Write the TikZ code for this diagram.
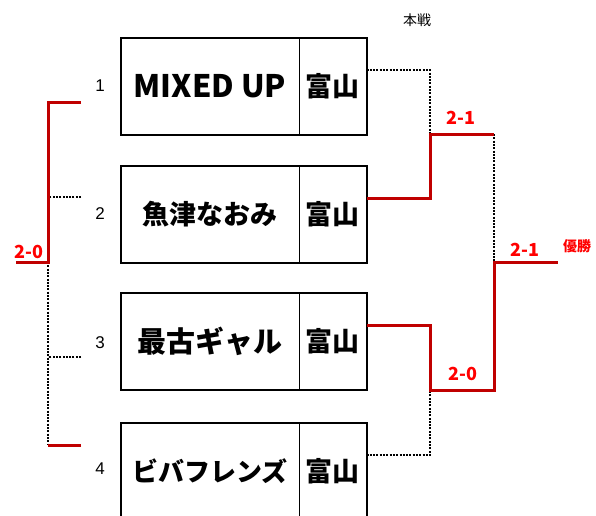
\documentclass[tikz,border=0pt]{standalone}
\usepackage{fontspec}
\setmainfont{Liberation Sans}
\newfontfamily\jp{Noto Sans CJK JP}
\definecolor{wline}{HTML}{C00000}
\definecolor{wtext}{HTML}{FF0000}
\begin{document}
\begin{tikzpicture}[x=1pt,y=-1pt,
  namebox/.style={draw,line width=1pt,minimum width=178pt,minimum height=96pt,inner sep=0pt,anchor=center},
  prefbox/.style={draw,line width=1pt,minimum width=67pt,minimum height=96pt,inner sep=0pt,anchor=center,font=\jp\bfseries\fontsize{27}{27}\selectfont},
  num/.style={font=\fontsize{17}{17}\selectfont,inner sep=0pt},
  score/.style={font=\jp\bfseries\fontsize{18}{18}\selectfont,text=wtext,inner sep=0pt},
  win/.style={line width=3pt,wline},
  lose/.style={line width=2pt,dash pattern=on 2pt off 1.3pt,black},
]
\useasboundingbox (0,0) rectangle (596,515);
\clip (0,0) rectangle (596,515);

% team boxes
\node[namebox,font=\jp\bfseries\fontsize{31}{31}\selectfont] (n1) at (210,86) {MIXED UP};
\node[prefbox] (p1) at (332.5,86) {富山};
\node[namebox,font=\jp\bfseries\fontsize{27}{27}\selectfont] (n2) at (210,214) {魚津なおみ};
\node[prefbox] (p2) at (332.5,214) {富山};
\node[namebox,font=\jp\bfseries\fontsize{29}{29}\selectfont] (n3) at (210,341.5) {最古ギャル};
\node[prefbox] (p3) at (332.5,341.5) {富山};
\node[namebox,font=\jp\bfseries\fontsize{26}{26}\selectfont] (n4) at (210,471) {ビバフレンズ};
\node[prefbox] (p4) at (332.5,471) {富山};
\foreach \i in {1,2,3,4}{
  \draw[line width=2pt] (n\i.north west) rectangle (p\i.south east);
}

% numbers
\node[num] (k1) at (100,86) {1};
\node[num] (k2) at (100,214) {2};
\node[num] (k3) at (100,343) {3};
\node[num] (k4) at (100,469) {4};

% left bracket
\coordinate (L1) at (81,102);
\coordinate (L2) at (81,197);
\coordinate (L3) at (81,357);
\coordinate (L4) at (81,445);
\coordinate (LJ) at (48,262);
\coordinate (LE) at (16,262);
\draw[lose] (L2) -- (48,197);
\draw[lose] (L3) -- (48,357);
\draw[lose] (LJ) -- (L4 -| LJ);
\draw[win] (L4) -- (L4 -| LJ);
\draw[win] (L1) -| (LJ) -- (LE);
\node[score,anchor=south] (s0) at (29,259) {2-0};

% right bracket
\coordinate (A) at (430,134);
\coordinate (B) at (430,390);
\coordinate (C) at (494,262);
\coordinate (E) at (558,262);
\draw[lose] ([yshift=16pt]p1.east) -| (A);
\draw[lose] ([yshift=16pt]p4.east) -| (B);
\draw[lose] (A -| C) -- (C);
\draw[win] ([yshift=16pt]p2.east) -| (A) -- (A -| C);
\draw[win] ([yshift=16pt]p3.east) -| (B) -| (C) -- (E);

\node[score] (s1) at (461,118) {2-1};
\node[score] (s2) at (463,374) {2-0};
\node[score] (s3) at (525,250) {2-1};
\node[font=\jp\bfseries\fontsize{14}{14}\selectfont,text=wtext,inner sep=0pt] (yu) at (577,246) {優勝};
\node[font=\jp\fontsize{14}{14}\selectfont,inner sep=0pt] (hs) at (417,20) {本戦};
\end{tikzpicture}
\end{document}
